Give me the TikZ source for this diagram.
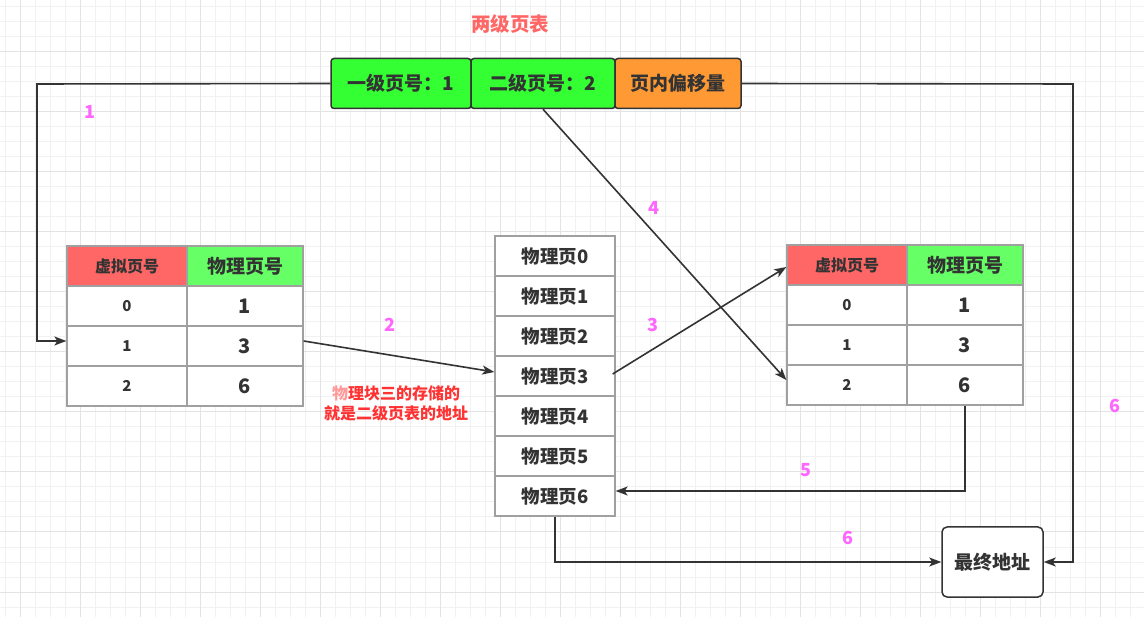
\documentclass[tikz,border=0pt]{standalone}
\usepackage{fontspec}
\setmainfont{Noto Sans CJK SC}
\usetikzlibrary{arrows.meta}
\definecolor{ink}{HTML}{333333}
\definecolor{gridminor}{HTML}{F1F1F1}
\definecolor{gridmajor}{HTML}{E3E3E3}
\definecolor{boxgreen}{HTML}{33FF33}
\definecolor{boxorange}{HTML}{FF9933}
\definecolor{hdrred}{HTML}{FF6666}
\definecolor{hdrgreen}{HTML}{66FF66}
\definecolor{cellline}{HTML}{A0A0A0}
\definecolor{stepmag}{HTML}{FF66FF}
\definecolor{notered}{HTML}{FF3333}
\definecolor{notepink}{HTML}{FF9999}
\definecolor{titlered}{HTML}{FF6666}
\tikzset{
  topbox/.style={draw=ink, line width=1.5pt, rounded corners=3pt, minimum height=50pt, inner sep=0pt, text=ink, font=\fontsize{19}{21}\selectfont\bfseries},
  cell/.style={draw=cellline, line width=1.3pt, fill=white, minimum height=40pt, inner sep=0pt, text=ink},
  colA/.style={cell, minimum width=120pt},
  colB/.style={cell, minimum width=116pt},
  hdrA/.style={colA, fill=hdrred, font=\fontsize{16}{18}\selectfont\bfseries},
  hdrB/.style={colB, fill=hdrgreen, font=\fontsize{19}{21}\selectfont\bfseries},
  numA/.style={colA, font=\fontsize{15}{17}\selectfont\bfseries},
  numB/.style={colB, font=\fontsize{20}{22}\selectfont\bfseries},
  pagecell/.style={cell, minimum width=120pt, font=\fontsize{18.5}{20}\selectfont\bfseries},
  finalbox/.style={draw=ink, line width=1.5pt, rounded corners=5pt, fill=white, minimum width=101pt, minimum height=70pt, inner sep=0pt, text=ink, font=\fontsize{19}{21}\selectfont\bfseries},
  conn/.style={draw=ink, line width=1.6pt, -{Stealth[length=12pt,width=9pt,inset=3pt]}},
  steplabel/.style={text=stepmag, font=\fontsize{18}{20}\selectfont\bfseries},
}
\begin{document}
\begin{tikzpicture}[x=1pt,y=-1pt]
\useasboundingbox (0,0) rectangle (1144,617);
\fill[white] (0,0) rectangle (1144,617);
% grid
\foreach \x in {5,20,...,1144} \draw[gridminor, line width=1pt] (\x,0) -- (\x,617);
\foreach \y in {7,22,...,617} \draw[gridminor, line width=1pt] (0,\y) -- (1144,\y);
\foreach \x in {20,80,...,1144} \draw[gridmajor, line width=1pt] (\x,0) -- (\x,617);
\foreach \y in {52,112,...,617} \draw[gridmajor, line width=1pt] (0,\y) -- (1144,\y);

% title
\node[text=titlered, font=\fontsize{19.5}{21}\selectfont\bfseries] (title) at (510,24) {两级页表};

% top boxes
\node[topbox, fill=boxgreen, minimum width=140pt] (b1) at (401,83.5) {一级页号：1};
\node[topbox, fill=boxgreen, minimum width=144pt] (b2) at (543,83.5) {二级页号：2};
\node[topbox, fill=boxorange, minimum width=126pt] (b3) at (678,83.5) {页内偏移量};

% left table
\node[hdrA] (L00) at (127,266) {虚拟页号};
\node[hdrB] (L01) at (245,266) {物理页号};
\node[numA] (L10) at (127,306) {0};
\node[numB] (L11) at (245,306) {1};
\node[numA] (L20) at (127,346) {1};
\node[numB] (L21) at (245,346) {3};
\node[numA] (L30) at (127,386) {2};
\node[numB] (L31) at (245,386) {6};

% right table
\node[hdrA] (R00) at (847,265) {虚拟页号};
\node[hdrB] (R01) at (965,265) {物理页号};
\node[numA] (R10) at (847,305) {0};
\node[numB] (R11) at (965,305) {1};
\node[numA] (R20) at (847,345) {1};
\node[numB] (R21) at (965,345) {3};
\node[numA] (R30) at (847,385) {2};
\node[numB] (R31) at (965,385) {6};

% physical pages
\node[pagecell] (M0) at (555,256) {物理页0};
\node[pagecell] (M1) at (555,296) {物理页1};
\node[pagecell] (M2) at (555,336) {物理页2};
\node[pagecell] (M3) at (555,376) {物理页3};
\node[pagecell] (M4) at (555,416) {物理页4};
\node[pagecell] (M5) at (555,456) {物理页5};
\node[pagecell] (M6) at (555,496) {物理页6};

% final address
\node[finalbox] (fin) at (992.5,562) {最终地址};

% helper coordinates
\coordinate (c1) at (37,84);
\coordinate (c6) at (1073,84);

% connectors
\draw[conn] (b1.west) -- (c1) |- ([yshift=5pt]L20.west);
\draw[conn] ([yshift=5pt]L21.east) -- ([yshift=4pt]M3.west);
\draw[conn] ([xshift=-3pt,yshift=2pt]M3.east) -- ([yshift=-2pt]R00.west);
\draw[conn] (b2.south) -- ([yshift=5pt]R30.west);
\draw[conn] (R31.south) |- ([yshift=5pt]M6.east);
\draw[conn] (M6.south) |- (fin.west);
\draw[conn] (b3.east) -- (c6) |- (fin.east);

% step labels
\node[steplabel] (s1) at (90,112) {1};
\node[steplabel] (s2) at (390,325) {2};
\node[steplabel] (s3) at (653,325) {3};
\node[steplabel] (s4) at (654,208) {4};
\node[steplabel] (s5) at (806,470) {5};
\node[steplabel] (s6a) at (848,538) {6};
\node[steplabel] (s6b) at (1115,406) {6};

% note
\node[text=notered, font=\fontsize{16}{20}\selectfont\bfseries, align=center] (note) at (396,403) {\textcolor{notepink}{物}理块三的存储的\\就是二级页表的地址};
\end{tikzpicture}
\end{document}
